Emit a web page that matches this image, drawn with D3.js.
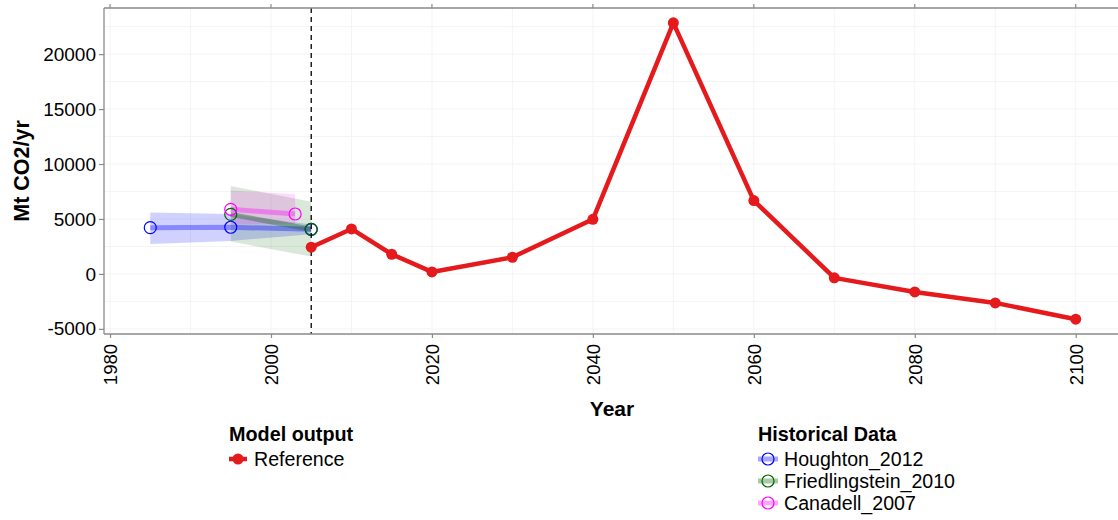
<!DOCTYPE html>
<html>
<head>
<meta charset="utf-8">
<script src="https://cdn.jsdelivr.net/npm/d3@7"></script>
<style>
  html, body { margin: 0; padding: 0; background: #fff; }
  svg { display: block; font-family: "Liberation Sans", Arial, Helvetica, sans-serif; }
</style>
</head>
<body>
<svg id="chart" width="1118" height="520"></svg>
<script>
// Model output: reference scenario (Mt CO2/yr)
const refYears  = [2005, 2010, 2015, 2020, 2030, 2040, 2050, 2060, 2070, 2080, 2090, 2100];
const refValues = [2430, 4090, 1790, 180, 1515, 4970, 22850, 6670, -360, -1640, -2640, -4120];

// Historical estimates: central value with lower/upper range
const houghtonYears = [1985, 1995, 2005];
const houghtonMid   = [4210, 4245, 4060];
const houghtonLow   = [2730, 3000, 3600];
const houghtonHigh  = [5580, 5450, 4500];

const friedYears = [1995, 2005];
const friedMid   = [5420, 4060];
const friedLow   = [2940, 1580];
const friedHigh  = [8000, 6570];

const canadellYears = [1995, 2003];
const canadellMid   = [5880, 5450];
const canadellLow   = [4500, 4550];
const canadellHigh  = [7600, 7250];

const xTicks = [1980, 2000, 2020, 2040, 2060, 2080, 2100];
const xMinor = [1990, 2010, 2030, 2050, 2070, 2090];
const yTicks = [-5000, 0, 5000, 10000, 15000, 20000];
const yMinor = [-2500, 2500, 7500, 12500, 17500, 22500];
const cutoffYear = 2005;

const historical = [
  { name: "Houghton_2012",       color: "#0000FF", years: houghtonYears, mid: houghtonMid, low: houghtonLow, high: houghtonHigh },
  { name: "Friedlingstein_2010", color: "#006400", years: friedYears,    mid: friedMid,    low: friedLow,    high: friedHigh },
  { name: "Canadell_2007",       color: "#FF00FF", years: canadellYears, mid: canadellMid, low: canadellLow, high: canadellHigh }
];
const refColor = "#E41A1C";

const svg = d3.select("#chart");
const W = 1118;
const panel = { left: 104, top: 8, right: 1122, bottom: 334 };

// Domains with 5% padding, like ggplot's default expansion
const allYears = refYears.concat(houghtonYears, friedYears, canadellYears);
const allVals  = refValues.concat(houghtonLow, houghtonHigh, friedLow, friedHigh, canadellLow, canadellHigh);
const xe = d3.extent(allYears), ye = d3.extent(allVals);
const xPad = (xe[1] - xe[0]) * 0.05, yPad = (ye[1] - ye[0]) * 0.05;

const x = d3.scaleLinear().domain([xe[0] - xPad, xe[1] + xPad]).range([panel.left, panel.right]);
const y = d3.scaleLinear().domain([ye[0] - yPad, ye[1] + yPad]).range([panel.bottom, panel.top]);

svg.append("rect").attr("width", W).attr("height", 520).attr("fill", "#fff");

svg.append("defs").append("clipPath").attr("id", "clip")
  .append("rect").attr("x", panel.left).attr("y", panel.top)
  .attr("width", panel.right - panel.left).attr("height", panel.bottom - panel.top);

// Grid
const grid = svg.append("g");
grid.selectAll(".gx").data(xTicks.concat(xMinor)).enter().append("line")
  .attr("x1", d => x(d)).attr("x2", d => x(d))
  .attr("y1", panel.top).attr("y2", panel.bottom)
  .attr("stroke", "#f4f4f4").attr("stroke-width", 1);
grid.selectAll(".gy").data(yTicks.concat(yMinor)).enter().append("line")
  .attr("x1", panel.left).attr("x2", W)
  .attr("y1", d => y(d)).attr("y2", d => y(d))
  .attr("stroke", "#f4f4f4").attr("stroke-width", 1);

const plot = svg.append("g").attr("clip-path", "url(#clip)");

// Uncertainty ribbons
const area = d3.area().x(d => x(d.year)).y0(d => y(d.low)).y1(d => y(d.high));
const rows = s => s.years.map((yr, i) => ({ year: yr, mid: s.mid[i], low: s.low[i], high: s.high[i] }));
historical.forEach(s => {
  plot.append("path").datum(rows(s)).attr("d", area)
    .attr("fill", s.color).attr("fill-opacity", s.name === "Houghton_2012" ? 0.18 : 0.15);
});

// Central lines
const line = d3.line().x(d => x(d.year)).y(d => y(d.mid));
historical.forEach(s => {
  plot.append("path").datum(rows(s)).attr("d", line)
    .attr("fill", "none").attr("stroke", s.color).attr("stroke-opacity", 0.35)
    .attr("stroke-width", 5).attr("stroke-linecap", "butt");
});
historical.forEach(s => {
  plot.selectAll(null).data(rows(s)).enter().append("circle")
    .attr("cx", d => x(d.year)).attr("cy", d => y(d.mid)).attr("r", 6)
    .attr("fill", "none").attr("stroke", s.color).attr("stroke-width", 1.2);
});

// Cutoff marker
plot.append("line")
  .attr("x1", x(cutoffYear)).attr("x2", x(cutoffYear))
  .attr("y1", panel.top).attr("y2", panel.bottom)
  .attr("stroke", "#000").attr("stroke-width", 1.3).attr("stroke-dasharray", "5,4");

// Reference scenario
const refRows = refYears.map((yr, i) => ({ year: yr, mid: refValues[i] }));
plot.append("path").datum(refRows).attr("d", line)
  .attr("fill", "none").attr("stroke", refColor).attr("stroke-width", 4.5)
  .attr("stroke-linejoin", "round");
plot.selectAll(null).data(refRows).enter().append("circle")
  .attr("cx", d => x(d.year)).attr("cy", d => y(d.mid)).attr("r", 5.5)
  .attr("fill", refColor);

// Panel border lines
const axisColor = "#8a8a8a";
svg.append("line").attr("x1", panel.left).attr("x2", W).attr("y1", panel.top).attr("y2", panel.top)
  .attr("stroke", axisColor).attr("stroke-width", 1.3);
svg.append("line").attr("x1", panel.left).attr("x2", W).attr("y1", panel.bottom).attr("y2", panel.bottom)
  .attr("stroke", axisColor).attr("stroke-width", 1.3);
svg.append("line").attr("x1", panel.left).attr("x2", panel.left).attr("y1", panel.top).attr("y2", panel.bottom)
  .attr("stroke", axisColor).attr("stroke-width", 1.3);

// Plain hyphen for negatives
const fmt = d => String(d);

// Axes
const xAxis = svg.append("g").attr("transform", `translate(0,${panel.bottom})`)
  .call(d3.axisBottom(x).tickValues(xTicks).tickFormat(fmt).tickSize(4).tickSizeOuter(0));
xAxis.select(".domain").remove();
xAxis.selectAll(".tick line").attr("stroke", axisColor).attr("stroke-width", 1.2);
xAxis.selectAll(".tick text")
  .attr("font-size", 18.5).attr("fill", "#000")
  .attr("transform", "rotate(-90)")
  .attr("x", -10).attr("y", 0).attr("dy", "0.35em")
  .attr("text-anchor", "end");

// small tick marks on the top edge
svg.append("g").selectAll(null).data(xTicks).enter().append("line")
  .attr("x1", d => x(d)).attr("x2", d => x(d))
  .attr("y1", panel.top - 4).attr("y2", panel.top)
  .attr("stroke", axisColor).attr("stroke-width", 1.2);

const yAxis = svg.append("g").attr("transform", `translate(${panel.left},0)`)
  .call(d3.axisLeft(y).tickValues(yTicks).tickFormat(fmt).tickSize(5).tickSizeOuter(0));
yAxis.select(".domain").remove();
yAxis.selectAll(".tick line").attr("stroke", axisColor).attr("stroke-width", 1.2);
yAxis.selectAll(".tick text").attr("font-size", 19).attr("fill", "#000").attr("x", -8);

// Axis titles
svg.append("text").attr("transform", `translate(29,${(panel.top + panel.bottom) / 2}) rotate(-90)`)
  .attr("text-anchor", "middle").attr("font-weight", "bold").attr("font-size", 21.5)
  .text("Mt CO2/yr");
svg.append("text").attr("x", (panel.left + panel.right) / 2 - 1).attr("y", 416)
  .attr("text-anchor", "middle").attr("font-weight", "bold").attr("font-size", 21)
  .text("Year");

// Legends
const leg1 = svg.append("g").attr("transform", "translate(229,0)");
leg1.append("text").attr("x", 0).attr("y", 441).attr("font-weight", "bold").attr("font-size", 19.8).text("Model output");
leg1.append("line").attr("x1", 0).attr("x2", 18).attr("y1", 459).attr("y2", 459)
  .attr("stroke", refColor).attr("stroke-width", 4.5);
leg1.append("circle").attr("cx", 9).attr("cy", 459).attr("r", 5.5).attr("fill", refColor);
leg1.append("text").attr("x", 25).attr("y", 466).attr("font-size", 19.6).text("Reference");

const leg2 = svg.append("g").attr("transform", "translate(758,0)");
leg2.append("text").attr("x", 0).attr("y", 441).attr("font-weight", "bold").attr("font-size", 19.8).text("Historical Data");
historical.forEach((s, i) => {
  const cy = 459 + i * 22;
  leg2.append("line").attr("x1", 0).attr("x2", 20).attr("y1", cy).attr("y2", cy)
    .attr("stroke", s.color).attr("stroke-opacity", 0.35).attr("stroke-width", 5);
  leg2.append("circle").attr("cx", 10).attr("cy", cy).attr("r", 6)
    .attr("fill", "none").attr("stroke", s.color).attr("stroke-width", 1.2);
  leg2.append("text").attr("x", 26).attr("y", cy + 7).attr("font-size", 19.6).text(s.name);
});
</script>
</body>
</html>
